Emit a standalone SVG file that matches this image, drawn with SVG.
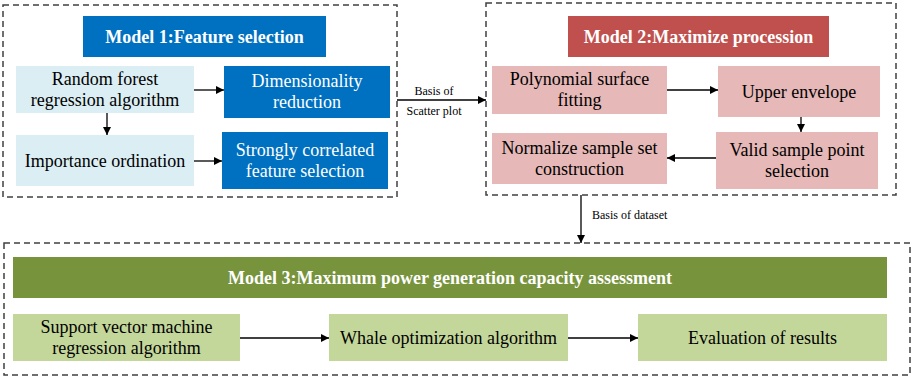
<svg xmlns="http://www.w3.org/2000/svg" width="913" height="378" viewBox="0 0 913 378">
<style>
.frame{fill:none;stroke:#404040;stroke-width:1.5;stroke-dasharray:6 4}
.blue{fill:#0070C0}
.lblue{fill:#DBEEF4}
.red{fill:#C0504D}
.pink{fill:#E6B8B7}
.green{fill:#77933C}
.lgreen{fill:#C4D79B}
.c{stroke:#000;stroke-width:1.3;fill:none;marker-end:url(#ah)}
</style>
<defs>
<marker id="ah" viewBox="0 0 10 10" refX="10" refY="5" markerWidth="8" markerHeight="8" markerUnits="userSpaceOnUse" orient="auto">
<path d="M0,0 L10,5 L0,10 z" fill="#000"/>
</marker>
</defs>
<rect width="913" height="378" fill="#fff"/>

<g id="model1">
<rect class="frame" x="3" y="5" width="394" height="192"/>
<g id="m1-title"><rect class="blue" x="83" y="16" width="243" height="41"/><text font-family="Liberation Serif" font-size="18" font-weight="bold" fill="#fff" x="204.5" y="42.5" text-anchor="middle">Model 1:Feature selection</text></g>
<g id="m1-rf"><rect class="lblue" x="16" y="66" width="178" height="47"/><text font-family="Liberation Serif" font-size="18" x="105" y="85" text-anchor="middle">Random forest</text><text font-family="Liberation Serif" font-size="18" x="105" y="106" text-anchor="middle">regression algorithm</text></g>
<g id="m1-dim"><rect class="blue" x="224" y="66" width="166" height="52"/><text font-family="Liberation Serif" font-size="18" fill="#fff" x="307" y="87" text-anchor="middle">Dimensionality</text><text font-family="Liberation Serif" font-size="18" fill="#fff" x="307" y="108" text-anchor="middle">reduction</text></g>
<g id="m1-imp"><rect class="lblue" x="16" y="135" width="178" height="51"/><text font-family="Liberation Serif" font-size="18" x="105" y="167" text-anchor="middle">Importance ordination</text></g>
<g id="m1-str"><rect class="blue" x="222" y="132" width="166" height="57"/><text font-family="Liberation Serif" font-size="18" fill="#fff" x="305" y="156" text-anchor="middle">Strongly correlated</text><text font-family="Liberation Serif" font-size="18" fill="#fff" x="305" y="177" text-anchor="middle">feature selection</text></g>
</g>

<g id="model2">
<rect class="frame" x="486" y="3" width="410" height="192"/>
<g id="m2-title"><rect class="red" x="568" y="16" width="261" height="41"/><text font-family="Times New Roman, serif" font-size="18" font-weight="bold" fill="#fff" x="698.5" y="42.5" text-anchor="middle">Model 2:Maximize procession</text></g>
<g id="m2-poly"><rect class="pink" x="492" y="66" width="175" height="48"/><text font-family="Times New Roman, serif" font-size="18" x="579.5" y="85" text-anchor="middle">Polynomial surface</text><text font-family="Times New Roman, serif" font-size="18" x="579.5" y="106" text-anchor="middle">fitting</text></g>
<g id="m2-upper"><rect class="pink" x="718" y="66" width="162" height="51"/><text font-family="Times New Roman, serif" font-size="18" x="799" y="97.5" text-anchor="middle">Upper envelope</text></g>
<g id="m2-valid"><rect class="pink" x="716" y="132" width="162" height="57"/><text font-family="Times New Roman, serif" font-size="18" x="797" y="156" text-anchor="middle">Valid sample point</text><text font-family="Times New Roman, serif" font-size="18" x="797" y="177" text-anchor="middle">selection</text></g>
<g id="m2-norm"><rect class="pink" x="492" y="133" width="175" height="51"/><text font-family="Times New Roman, serif" font-size="18" x="579.5" y="154" text-anchor="middle">Normalize sample set</text><text font-family="Times New Roman, serif" font-size="18" x="579.5" y="175" text-anchor="middle">construction</text></g>
</g>

<g id="model3">
<rect class="frame" x="4" y="243" width="906" height="132"/>
<g id="m3-title"><rect class="green" x="13" y="257" width="874" height="41"/><text font-family="serif" font-size="18" font-weight="bold" fill="#fff" x="450" y="283.5" text-anchor="middle">Model 3:Maximum power generation capacity assessment</text></g>
<g id="m3-svm"><rect class="lgreen" x="13" y="314" width="227" height="47"/><text font-family="serif" font-size="18" x="126.5" y="333" text-anchor="middle">Support vector machine</text><text font-family="serif" font-size="18" x="126.5" y="354" text-anchor="middle">regression algorithm</text></g>
<g id="m3-whale"><rect class="lgreen" x="329" y="314" width="239" height="47"/><text font-family="serif" font-size="18" x="448.5" y="343.5" text-anchor="middle">Whale optimization algorithm</text></g>
<g id="m3-eval"><rect class="lgreen" x="638" y="314" width="249" height="47"/><text font-family="serif" font-size="18" x="762.5" y="343.5" text-anchor="middle">Evaluation of results</text></g>
</g>

<g id="connectors">
<line class="c" x1="194" y1="90" x2="224" y2="90"/>
<line class="c" x1="107" y1="113" x2="107" y2="135"/>
<line class="c" x1="194" y1="161" x2="222" y2="161"/>
<line class="c" x1="397" y1="100" x2="486" y2="100"/>
<line class="c" x1="667" y1="90" x2="718" y2="90"/>
<line class="c" x1="801" y1="117" x2="801" y2="132"/>
<line class="c" x1="716" y1="158" x2="667" y2="158"/>
<line class="c" x1="581" y1="195" x2="581" y2="243"/>
<line class="c" x1="240" y1="338" x2="329" y2="338"/>
<line class="c" x1="568" y1="338" x2="638" y2="338"/>
<text font-family="Liberation Serif" font-size="12" x="434" y="95" text-anchor="middle">Basis of</text>
<text font-family="Liberation Serif" font-size="12" x="434" y="115" text-anchor="middle">Scatter plot</text>
<text font-family="Liberation Serif" font-size="12" x="592" y="219">Basis of dataset</text>
</g>
</svg>
